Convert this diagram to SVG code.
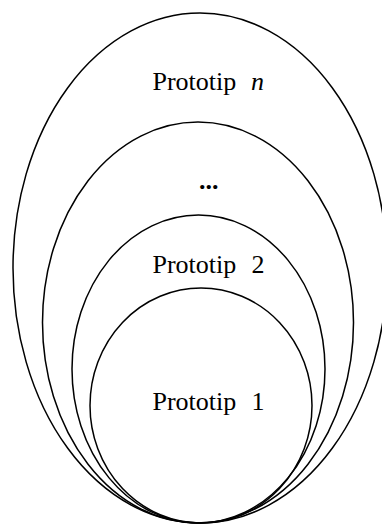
<svg xmlns="http://www.w3.org/2000/svg" width="382" height="527" viewBox="0 0 382 527">
  <style>
    .ring { fill: none; stroke: #000; stroke-width: 1.5; }
    .lbl { font-family: "Liberation Serif", "Times New Roman", serif; font-size: 26px; fill: #000; }
    .it { font-style: italic; }
  </style>
  <rect width="382" height="527" fill="#fff"/>
  <!-- nested prototypes, all touching at the bottom -->
  <g id="prototip-n">
    <ellipse class="ring" cx="200" cy="268" rx="187" ry="255"/>
    <text class="lbl" x="152.5" y="89.5">Prototip<tspan class="it" x="251">n</tspan></text>
  </g>
  <g id="prototip-dots">
    <ellipse class="ring" cx="198" cy="322.5" rx="155.5" ry="200.5"/>
    <text class="lbl" x="199" y="189" font-weight="bold">...</text>
  </g>
  <g id="prototip-2">
    <ellipse class="ring" cx="198.5" cy="369" rx="126.5" ry="154"/>
    <text class="lbl" x="152.5" y="273">Prototip<tspan x="251.5">2</tspan></text>
  </g>
  <g id="prototip-1">
    <ellipse class="ring" cx="201" cy="405.5" rx="111" ry="117.5"/>
    <text class="lbl" x="152.5" y="410">Prototip<tspan x="251.5">1</tspan></text>
  </g>
  <g id="connectors"/>
</svg>
